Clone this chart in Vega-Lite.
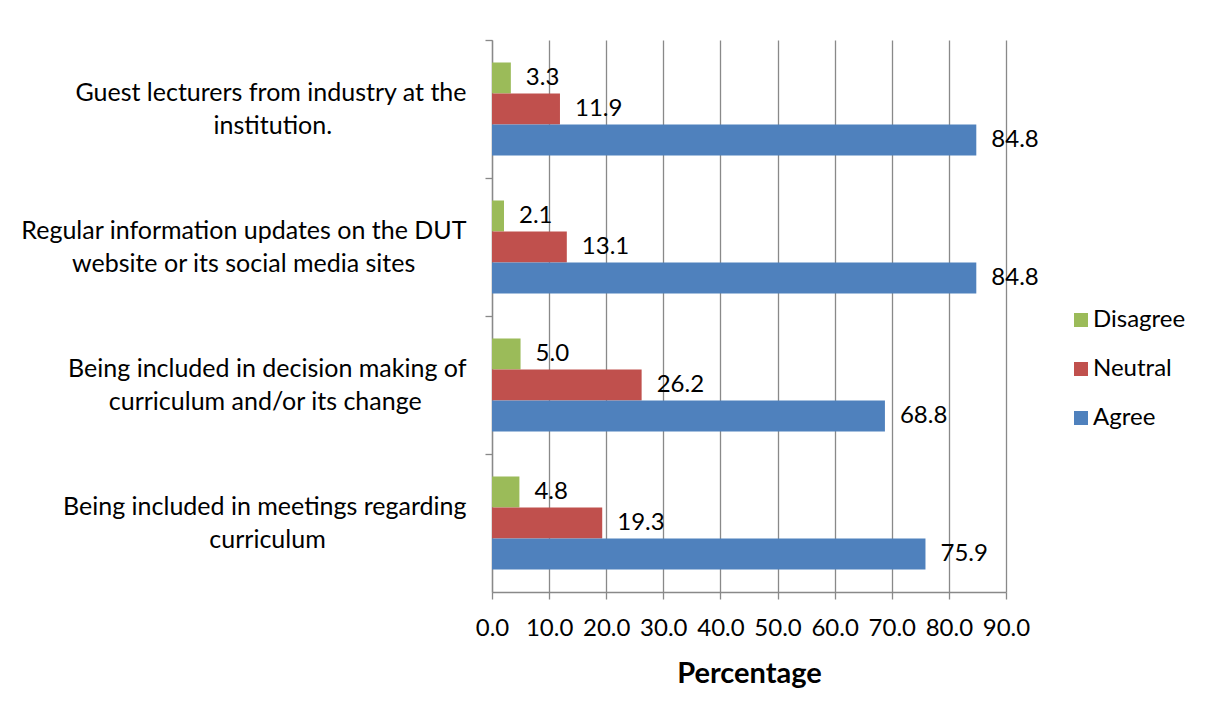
{
  "$schema": "https://vega.github.io/schema/vega-lite/v6.json",
  "width": 514,
  "height": 552,
  "autosize": {"type": "none"},
  "padding": {"left": 492, "top": 40, "right": 202, "bottom": 124},
  "background": "white",
  "config": {
    "view": {"stroke": null},
    "font": "Lato",
    "text": {"font": "Lato"}
  },
  "data": {
    "values": [
      {"item": "Guest lecturers from industry at the institution.", "response": "Disagree", "pct": 3.3},
      {"item": "Guest lecturers from industry at the institution.", "response": "Neutral", "pct": 11.9},
      {"item": "Guest lecturers from industry at the institution.", "response": "Agree", "pct": 84.8},
      {"item": "Regular information updates on the DUT website or its social media sites", "response": "Disagree", "pct": 2.1},
      {"item": "Regular information updates on the DUT website or its social media sites", "response": "Neutral", "pct": 13.1},
      {"item": "Regular information updates on the DUT website or its social media sites", "response": "Agree", "pct": 84.8},
      {"item": "Being included in decision making of curriculum and/or its change", "response": "Disagree", "pct": 5.0},
      {"item": "Being included in decision making of curriculum and/or its change", "response": "Neutral", "pct": 26.2},
      {"item": "Being included in decision making of curriculum and/or its change", "response": "Agree", "pct": 68.8},
      {"item": "Being included in meetings regarding curriculum", "response": "Disagree", "pct": 4.8},
      {"item": "Being included in meetings regarding curriculum", "response": "Neutral", "pct": 19.3},
      {"item": "Being included in meetings regarding curriculum", "response": "Agree", "pct": 75.9}
    ]
  },
  "encoding": {
    "y": {
      "field": "item",
      "type": "nominal",
      "sort": [
        "Guest lecturers from industry at the institution.",
        "Regular information updates on the DUT website or its social media sites",
        "Being included in decision making of curriculum and/or its change",
        "Being included in meetings regarding curriculum"
      ],
      "scale": {"paddingInner": 0.326, "paddingOuter": 0.163},
      "axis": {
        "title": null,
        "domain": true,
        "domainColor": "#898989",
        "domainWidth": 1.3,
        "ticks": true,
        "tickOffset": -69,
        "tickSize": 7,
        "tickColor": "#898989",
        "tickWidth": 1.3,
        "grid": false,
        "labelFont": "Lato",
        "labelFontSize": 25,
        "labelColor": "#000000",
        "labelAlign": "right",
        "labelBaseline": "middle",
        "labelLineHeight": 33,
        "labelPadding": 19,
        "labelOffset": 52.5,
        "labelLimit": 0,
        "labelExpr": "datum.value == 'Guest lecturers from industry at the institution.' ? ['Guest lecturers from industry at the', 'institution.\u00a0\u00a0\u00a0\u00a0\u00a0\u00a0\u00a0\u00a0\u00a0\u00a0\u00a0\u00a0\u00a0\u00a0\u00a0\u00a0\u00a0\u00a0\u00a0\u00a0\u00a0\u200b'] : datum.value == 'Regular information updates on the DUT website or its social media sites' ? ['Regular information updates on the DUT', 'website or its social media sites\u00a0\u00a0\u00a0\u00a0\u00a0\u00a0\u00a0\u00a0\u200b'] : datum.value == 'Being included in decision making of curriculum and/or its change' ? ['Being included in decision making of', 'curriculum and/or its change\u00a0\u00a0\u00a0\u00a0\u00a0\u00a0\u00a0\u200b'] : ['Being included in meetings regarding', 'curriculum\u00a0\u00a0\u00a0\u00a0\u00a0\u00a0\u00a0\u00a0\u00a0\u00a0\u00a0\u00a0\u00a0\u00a0\u00a0\u00a0\u00a0\u00a0\u00a0\u00a0\u00a0\u00a0\u200b']"
      }
    },
    "yOffset": {
      "field": "response",
      "type": "nominal",
      "sort": ["Disagree", "Neutral", "Agree"],
      "scale": {"paddingInner": 0, "paddingOuter": 0}
    },
    "x": {
      "field": "pct",
      "type": "quantitative",
      "scale": {"domain": [0, 90], "nice": false},
      "axis": {
        "values": [0, 10, 20, 30, 40, 50, 60, 70, 80, 90],
        "format": ".1f",
        "grid": true,
        "gridColor": "#898989",
        "gridWidth": 1.3,
        "domain": true,
        "domainColor": "#898989",
        "domainWidth": 1.3,
        "ticks": true,
        "tickSize": 7,
        "tickColor": "#898989",
        "tickWidth": 1.3,
        "labelFont": "Lato",
        "labelFontSize": 24,
        "labelColor": "#000000",
        "labelPadding": 17,
        "labelFlush": false,
        "labelOverlap": false,
        "title": "Percentage",
        "titleFont": "Lato",
        "titleFontSize": 29,
        "titleFontWeight": "bold",
        "titleColor": "#000000",
        "titlePadding": 19
      }
    }
  },
  "layer": [
    {
      "mark": {"type": "bar"},
      "encoding": {
        "color": {
          "field": "response",
          "type": "nominal",
          "scale": {
            "domain": ["Disagree", "Neutral", "Agree"],
            "range": ["#9BBB59", "#C0504D", "#4F81BD"]
          },
          "legend": {
            "title": null,
            "orient": "none",
            "legendX": 577,
            "legendY": 268,
            "padding": 0,
            "symbolType": "square",
            "symbolSize": 196,
            "symbolStrokeWidth": 0,
            "labelFont": "Lato",
            "labelFontSize": 24,
            "labelColor": "#000000",
            "labelOffset": 0,
            "rowPadding": 25
          }
        }
      }
    },
    {
      "mark": {"type": "text", "align": "left", "baseline": "middle", "dx": 15, "font": "Lato", "fontSize": 24, "color": "#000000"},
      "encoding": {
        "text": {"field": "pct", "type": "quantitative", "format": ".1f"}
      }
    }
  ]
}
